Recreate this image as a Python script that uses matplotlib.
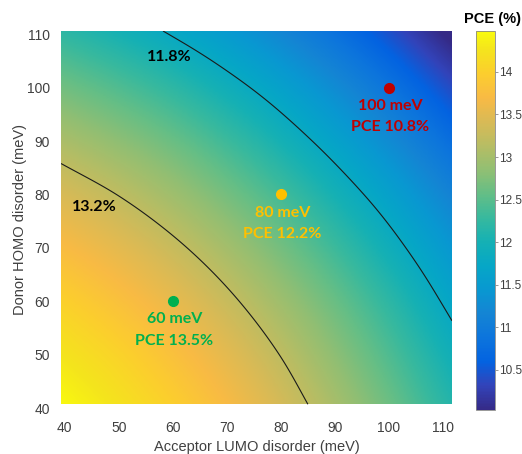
import numpy as np
import matplotlib
matplotlib.use("Agg")
import matplotlib.pyplot as plt
from matplotlib.colors import LinearSegmentedColormap

# grid (meV)
acceptor = [40, 50, 60, 70, 80, 90, 100, 110]
donor = [40, 50, 60, 70, 80, 90, 100, 110]
# PCE (%) rows = donor, cols = acceptor
pce = [
    [14.45, 14.24, 14.00, 13.71, 13.39, 13.03, 12.64, 12.22],
    [14.24, 14.04, 13.79, 13.51, 13.19, 12.83, 12.44, 12.02],
    [14.00, 13.79, 13.55, 13.27, 12.95, 12.60, 12.21, 11.78],
    [13.71, 13.51, 13.27, 12.99, 12.67, 12.32, 11.93, 11.51],
    [13.39, 13.19, 12.95, 12.67, 12.36, 12.00, 11.62, 11.20],
    [13.03, 12.83, 12.60, 12.32, 12.00, 11.65, 11.27, 10.85],
    [12.64, 12.44, 12.21, 11.93, 11.62, 11.27, 10.88, 10.46],
    [12.22, 12.02, 11.78, 11.51, 11.20, 10.85, 10.46, 10.04],
]
contour_levels = [11.8, 13.2]
contour_labels = ["11.8%", "13.2%"]

devices = [60, 80, 100]
device_pce = [13.5, 12.2, 10.8]
device_colors = ["#00B050", "#FFC000", "#C00000"]

# parula (sampled)
parula = [
    (0.2081, 0.1663, 0.5292), (0.1959, 0.2645, 0.7279), (0.0117, 0.3875, 0.8820),
    (0.0498, 0.4586, 0.8641), (0.0793, 0.5200, 0.8312), (0.0343, 0.5966, 0.8199),
    (0.0228, 0.6535, 0.7768), (0.0843, 0.6928, 0.7062), (0.2178, 0.7250, 0.6193),
    (0.3953, 0.7459, 0.5244), (0.5709, 0.7485, 0.4494), (0.7184, 0.7411, 0.3905),
    (0.8507, 0.7299, 0.3360), (0.9739, 0.7314, 0.2666), (0.9880, 0.8066, 0.1794),
    (0.9589, 0.8949, 0.1132), (0.9763, 0.9831, 0.0538),
]
pos = [i * 4 / 63 for i in range(16)] + [1.0]
cmap = LinearSegmentedColormap.from_list("parula", list(zip(pos, parula)))

xlim = (39.3, 111.7)
ylim = (40.7, 110.6)


def cubic_weights(nodes, q):
    # Catmull-Rom weights on a uniform grid, edges extended linearly
    nodes = np.asarray(nodes, float)
    n, h = len(nodes), nodes[1] - nodes[0]
    W = np.zeros((len(q), n))
    for k, t in enumerate(q):
        i = int(np.clip(np.floor((t - nodes[0]) / h), 0, n - 2))
        u = (t - nodes[i]) / h
        w = 0.5 * np.array([-u + 2 * u**2 - u**3,
                            2 - 5 * u**2 + 3 * u**3,
                            u + 4 * u**2 - 3 * u**3,
                            -u**2 + u**3])
        for j, wj in zip(range(i - 1, i + 3), w):
            if j < 0:
                W[k, 0] += 2 * wj
                W[k, 1] -= wj
            elif j >= n:
                W[k, n - 1] += 2 * wj
                W[k, n - 2] -= wj
            else:
                W[k, j] += wj
    return W


xf = np.linspace(xlim[0], xlim[1], 300)
yf = np.linspace(ylim[0], ylim[1], 300)
zf = cubic_weights(donor, yf) @ np.array(pce) @ cubic_weights(acceptor, xf).T

grey = "#404040"
fig = plt.figure(figsize=(5.22, 4.54), dpi=100)
ax = fig.add_axes([61 / 522, 46 / 454, 391 / 522, 377 / 454])
im = ax.imshow(zf, origin="lower", extent=[*xlim, *ylim], cmap=cmap,
               vmin=10.03, vmax=14.48, aspect="auto", interpolation="bilinear")
ax.contour(xf, yf, zf, levels=contour_levels, colors="#1a1a1a", linewidths=0.8)
ax.set_xlim(xlim)
ax.set_ylim(ylim)

lab = dict(family="Lato", fontweight="bold", fontsize=11.5, ha="center", va="center")
ax.text(59.3, 105.7, contour_labels[0], color="black", **lab)
ax.text(45.4, 77.6, contour_labels[1], color="black", **lab)

for d, p, c in zip(devices, device_pce, device_colors):
    ax.plot(d, d, "o", color=c, markersize=7)
    ax.text(d + 0.3, d - 3.4, f"{d} meV", color=c, **lab)
    ax.text(d + 0.3, d - 7.4, f"PCE {p}%", color=c, **lab)

for s in ax.spines.values():
    s.set_visible(False)
ax.set_xticks(range(40, 111, 10))
ax.set_yticks(range(40, 111, 10))
ax.tick_params(length=0, labelsize=10, labelcolor=grey, pad=9)
ax.tick_params(axis="y", pad=8)
for t in ax.get_xticklabels() + ax.get_yticklabels():
    t.set_family("Liberation Sans")
ax.set_xlabel("Acceptor LUMO disorder (meV)", fontsize=10.5, color=grey,
              family="Liberation Sans", labelpad=4)
ax.set_ylabel("Donor HOMO disorder (meV)", fontsize=10.5, color=grey,
              family="Liberation Sans", labelpad=0)

cax = fig.add_axes([476 / 522, 44 / 454, 19 / 522, 379 / 454])
cb = fig.colorbar(im, cax=cax)
cb.set_ticks([10.5, 11, 11.5, 12, 12.5, 13, 13.5, 14])
cb.set_ticklabels(["10.5", "11", "11.5", "12", "12.5", "13", "13.5", "14"])
cb.outline.set_edgecolor("#888888")
cb.outline.set_linewidth(0.6)
cax.tick_params(length=2, width=0.6, color="#888888", labelsize=8.5,
                labelcolor=grey, pad=1)
for t in cax.get_yticklabels():
    t.set_family("Liberation Sans")
fig.text(492 / 522, 1 - 19 / 454, "PCE (%)", fontsize=10.5, fontweight="bold",
         ha="center", va="center", family="Liberation Sans", color="black")

fig.savefig("out.png", dpi=100)
